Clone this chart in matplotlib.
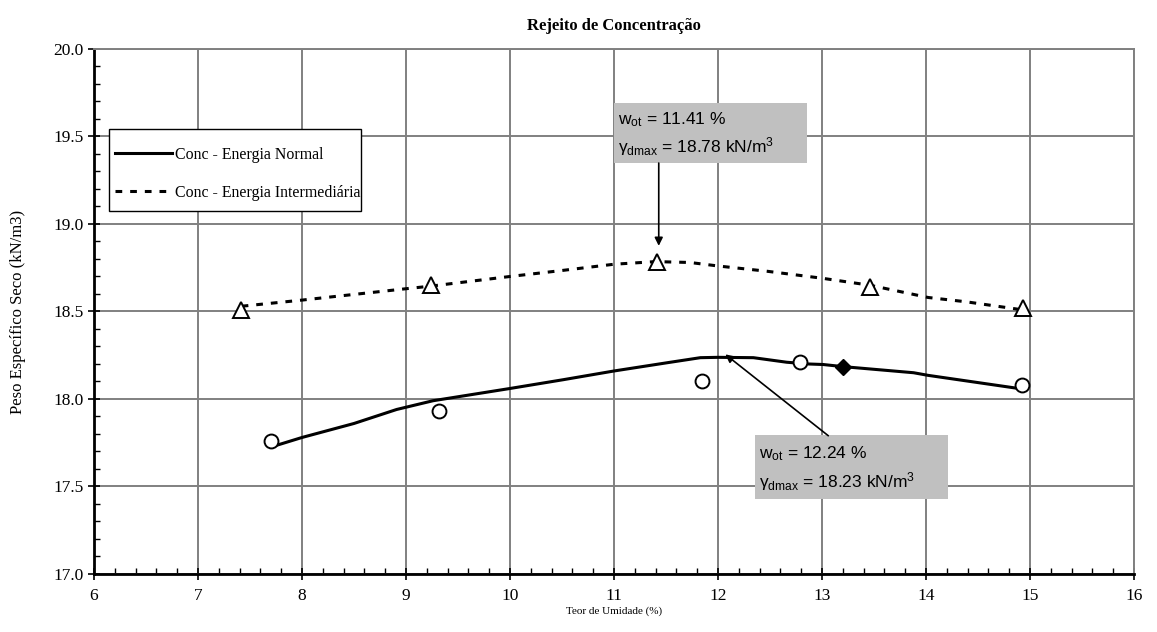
import matplotlib
matplotlib.use("Agg")
import matplotlib.pyplot as plt
from matplotlib.patches import Rectangle
from matplotlib.ticker import MultipleLocator

plt.rcParams["font.family"] = ["Liberation Serif", "DejaVu Serif"]
plt.rcParams["mathtext.fontset"] = "custom"
plt.rcParams["mathtext.rm"] = "Liberation Sans"
plt.rcParams["mathtext.it"] = "Liberation Sans"

# compaction test points
w_normal = [7.70, 9.32, 11.85, 12.79, 14.92]
g_normal = [17.76, 17.93, 18.10, 18.21, 18.08]
w_normal_extra = [13.20]
g_normal_extra = [18.185]

w_inter = [7.41, 9.24, 11.41, 13.46, 14.93]
g_inter = [18.51, 18.65, 18.78, 18.64, 18.52]

# fitted curves
w_fit_normal = [7.70, 8.00, 8.50, 8.91, 9.26, 10.00, 10.51, 11.00, 11.51, 11.83,
                12.00, 12.34, 12.66, 12.87, 13.01, 13.20, 13.88, 14.02, 14.89]
g_fit_normal = [17.725, 17.78, 17.86, 17.94, 17.99, 18.06, 18.11, 18.16, 18.207, 18.236,
                18.238, 18.236, 18.21, 18.20, 18.197, 18.185, 18.15, 18.135, 18.06]

w_fit_inter = [7.42, 8.00, 9.00, 9.24, 10.00, 10.51, 11.00, 11.40, 11.73, 12.00,
               12.47, 13.00, 13.46, 14.02, 14.39, 14.92]
g_fit_inter = [18.53, 18.565, 18.63, 18.645, 18.70, 18.735, 18.77, 18.785, 18.78, 18.76,
               18.73, 18.69, 18.65, 18.58, 18.555, 18.51]

w_ot = [11.41, 12.24]
g_dmax = [18.78, 18.23]

fig = plt.figure(figsize=(11.57, 6.32), dpi=100)
ax = fig.add_axes([0.0812, 0.0918, 0.8990, 0.8307])

ax.set_xlim(6, 16)
ax.set_ylim(17.0, 20.0)
ax.xaxis.set_major_locator(MultipleLocator(1))
ax.xaxis.set_minor_locator(MultipleLocator(0.2))
ax.yaxis.set_major_locator(MultipleLocator(0.5))
ax.yaxis.set_minor_locator(MultipleLocator(0.1))
ax.yaxis.set_major_formatter(plt.FormatStrFormatter("%.1f"))
ax.grid(True, which="major", color="#808080", lw=1.4)
ax.set_axisbelow(True)
ax.tick_params(which="major", direction="inout", length=8, width=1.2, labelsize=12.5)
ax.tick_params(which="minor", direction="in", length=4, width=1.0)
ax.tick_params(axis="x", pad=6)
for side in ["left", "bottom"]:
    ax.spines[side].set_linewidth(2)
for side in ["top", "right"]:
    ax.spines[side].set_color("#808080")
    ax.spines[side].set_linewidth(1.4)

ax.plot(w_fit_normal, g_fit_normal, color="black", lw=2.2, label="Conc - Energia Normal",
        zorder=3)
ax.plot(w_fit_inter, g_fit_inter, color="black", lw=2.2, dashes=(2.2, 2.6),
        label="Conc - Energia Intermediária", zorder=3)

ax.plot(w_normal, g_normal, "o", ms=10, mfc="white", mec="black", mew=1.4, zorder=4)
ax.plot(w_normal_extra, g_normal_extra, "D", ms=8.5, mfc="black", mec="black", zorder=4)
ax.plot(w_inter, g_inter, "^", ms=11, mfc="white", mec="black", mew=1.4, zorder=4)

# legend entries without its own frame, boxed separately
ax.add_patch(Rectangle((0.0144, 0.6914), 0.2423, 0.1562, transform=ax.transAxes,
                       facecolor="white", edgecolor="black", lw=1.0, zorder=5))
leg = ax.legend(loc="upper left", bbox_to_anchor=(0.0202, 0.814), fontsize=11.4,
                frameon=False, handlelength=3.6, handletextpad=0.2, labelspacing=1.4,
                borderpad=0, borderaxespad=0)
leg.set_zorder(6)

# optimum boxes
boxes = [(11.00, 19.348, 1.86, 0.346), (12.356, 17.431, 1.858, 0.361)]
arrows = [((11.43, 19.348), (11.43, 18.875)), ((13.06, 17.79), (12.07, 18.255))]
for (bx, by, bw, bh), (tail, head), w, g in zip(boxes, arrows, w_ot, g_dmax):
    ax.add_patch(Rectangle((bx, by), bw, bh, facecolor="#c0c0c0", edgecolor="none",
                           zorder=5))
    ax.text(bx + 0.04, by + bh * 0.71, r"w$_{\mathrm{ot}}$ = %.2f %%" % w,
            fontsize=12.5, family="Liberation Sans", va="center", zorder=6)
    ax.text(bx + 0.04, by + bh * 0.27,
            r"γ$_{\mathrm{dmax}}$ = %.2f kN/m$^{3}$" % g,
            fontsize=12.5, family="Liberation Sans", va="center", zorder=6)
    ax.annotate("", xy=head, xytext=tail,
                arrowprops=dict(arrowstyle="-|>", color="black", lw=1.2,
                                mutation_scale=12, shrinkA=0, shrinkB=0), zorder=6)

ax.set_title("Rejeito de Concentração", fontsize=12, fontweight="bold", pad=14)
ax.set_xlabel("Teor de Umidade (%)", fontsize=8, labelpad=2)
ax.set_ylabel("Peso Específico Seco (kN/m3)", fontsize=12, labelpad=20)

fig.savefig("out.png", dpi=100)
